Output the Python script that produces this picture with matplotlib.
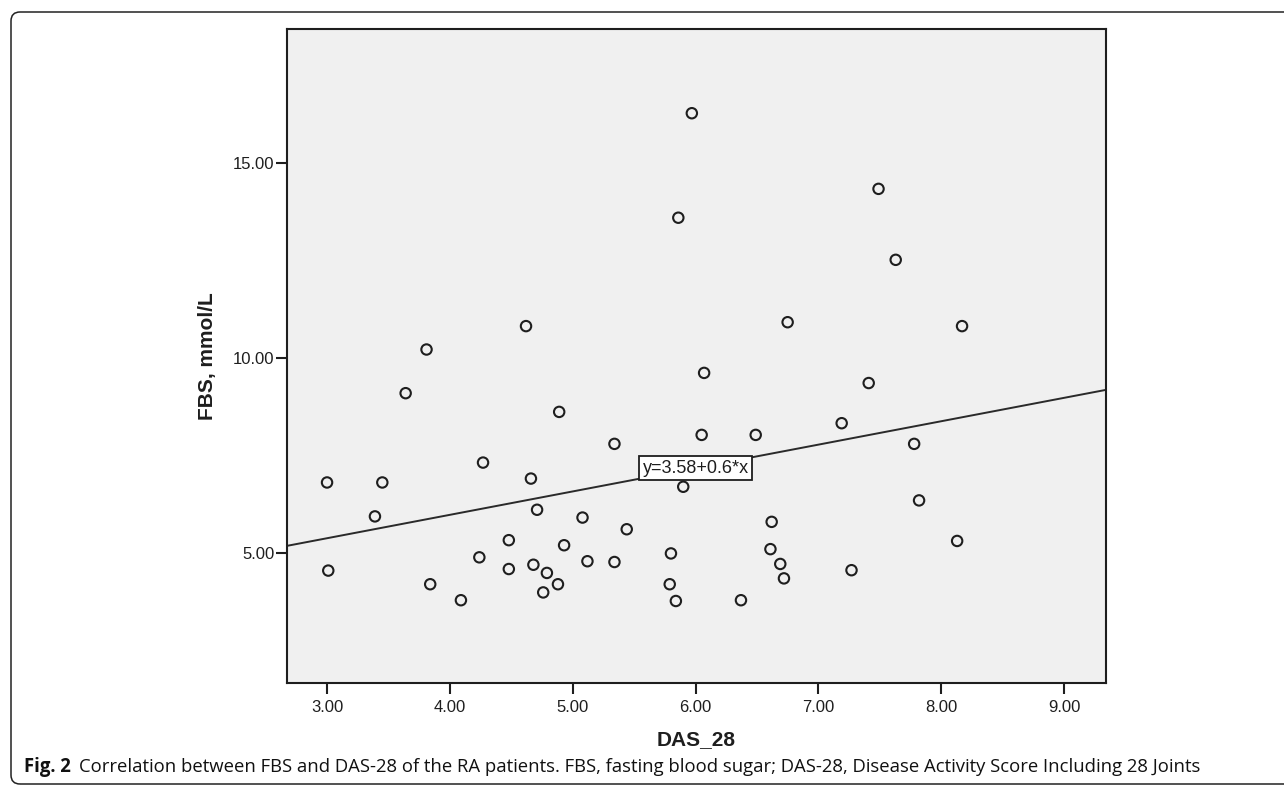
import matplotlib
matplotlib.use("Agg")
import matplotlib.pyplot as plt
from matplotlib.patches import FancyBboxPatch
from matplotlib.transforms import IdentityTransform
import numpy as np

# data (DAS_28 vs FBS)
das28 = [3.00, 3.01, 3.39, 3.45, 3.64, 3.81, 3.84, 4.09, 4.24, 4.27,
         4.48, 4.48, 4.66, 4.68, 4.71, 4.76, 4.62, 4.79, 4.88, 4.89,
         4.93, 5.08, 5.12, 5.34, 5.34, 5.44, 5.79, 5.80, 5.84, 5.86,
         5.90, 5.97, 6.05, 6.07, 6.37, 6.49, 6.61, 6.62, 6.69, 6.72,
         6.75, 7.19, 7.27, 7.49, 7.63, 7.41, 7.78, 7.82, 8.13, 8.17]
fbs = [6.81, 4.55, 5.94, 6.81, 9.10, 10.22, 4.20, 3.79, 4.89, 7.32,
       5.33, 4.59, 6.91, 4.70, 6.11, 3.99, 10.82, 4.49, 4.20, 8.62,
       5.20, 5.91, 4.79, 7.80, 4.77, 5.61, 4.20, 4.99, 3.77, 13.60,
       6.70, 16.28, 8.03, 9.62, 3.79, 8.03, 5.10, 5.80, 4.72, 4.35,
       10.92, 8.33, 4.56, 14.34, 12.52, 9.36, 7.80, 6.35, 5.31, 10.82]

intercept = 3.58
slope = 0.6
fit_label = "y=3.58+0.6*x"

x_ticks = [3, 4, 5, 6, 7, 8, 9]
y_ticks = [5, 10, 15]

caption_bold = "Fig. 2"
caption_rest = ("Correlation between FBS and DAS-28 of the RA patients. FBS, fasting blood sugar; "
                "DAS-28, Disease Activity Score Including 28 Joints")

W, H = 1284, 791
INK = "#1e1e1e"
PANEL = "#f0f0f0"
FONT = "Liberation Sans"

fig = plt.figure(figsize=(W / 100, H / 100), dpi=100)
fig.patch.set_facecolor("white")

# outer rounded frame (pixel coordinates, right side runs off the picture)
frame = FancyBboxPatch((11, 7), 1320, 772, boxstyle="round,pad=0,rounding_size=9",
                       transform=IdentityTransform(), facecolor="none",
                       edgecolor="#222222", linewidth=1.1)
fig.add_artist(frame)

ax = fig.add_axes([287 / W, 1 - 683 / H, (1106 - 287) / W, (683 - 29) / H])
ax.set_facecolor(PANEL)
ax.set_xlim(2.674, 9.342)
ax.set_ylim(1.667, 18.44)

for sp in ax.spines.values():
    sp.set_color(INK)
    sp.set_linewidth(1.5)

ax.set_xticks(x_ticks)
ax.set_yticks(y_ticks)
ax.set_xticklabels([f"{v:.2f}" for v in x_ticks])
ax.set_yticklabels([f"{v:.2f}" for v in y_ticks])
ax.tick_params(axis="both", direction="out", length=8, width=1.5, color=INK,
               labelsize=12, labelcolor=INK)
ax.tick_params(axis="x", pad=4)
ax.tick_params(axis="y", pad=1)
for lab in ax.get_xticklabels() + ax.get_yticklabels():
    lab.set_family(FONT)

# fit line across the whole axis range
xl = np.array(ax.get_xlim())
ax.plot(xl, intercept + slope * xl, color="#2a2a2a", linewidth=1.4, zorder=2)

ax.scatter(das28, fbs, s=56, facecolors="none", edgecolors=INK, linewidths=1.5, zorder=3)

ax.text(6.0, intercept + slope * 6.0, fit_label, ha="center", va="center",
        fontsize=13, family=FONT, color=INK, zorder=4,
        bbox=dict(boxstyle="square,pad=0.2", facecolor="white", edgecolor=INK, linewidth=1.3))

ax.set_xlabel("DAS_28", fontsize=15, fontweight="bold", family=FONT, color=INK)
ax.xaxis.set_label_coords(0.5, (683 - 740) / 654)
ax.xaxis.label.set_va("center")
ax.set_ylabel("FBS, mmol/L", fontsize=15, fontweight="bold", family=FONT, color=INK)
ax.yaxis.set_label_coords((208 - 287) / 819, 0.5)
ax.yaxis.label.set_va("center")

# caption: bold "Fig. 2" then regular text, sized to span the width
fig.canvas.draw()
renderer = fig.canvas.get_renderer()
cap_y = 1 - 767 / H
x0 = 24
size = 12.0
t1 = fig.text(x0 / W, cap_y, caption_bold, fontsize=size, fontweight="bold",
              family="Open Sans", va="center", ha="left", color="#111111")
t2 = fig.text(0, cap_y, caption_rest, fontsize=size, family="Open Sans",
              va="center", ha="left", color="#111111")
w1 = t1.get_window_extent(renderer).width
w2 = t2.get_window_extent(renderer).width
gap = 0.6 * size
scale = (1200 - x0) / (w1 + gap + w2)
size *= scale
t1.set_fontsize(size)
t2.set_fontsize(size)
w1 = t1.get_window_extent(renderer).width
t2.set_x((x0 + w1 + 0.6 * size) / W)

fig.savefig("out.png", dpi=100, facecolor="white")
